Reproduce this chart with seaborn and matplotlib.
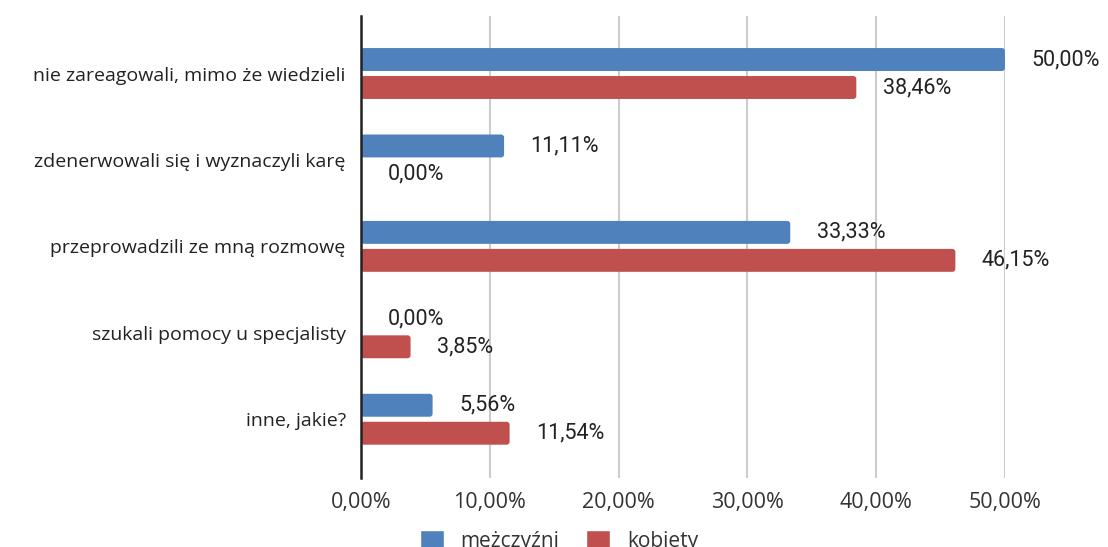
import matplotlib
matplotlib.use("Agg")
import matplotlib.pyplot as plt
from matplotlib.patches import FancyBboxPatch
import seaborn as sns
import pandas as pd

categories = [
    "nie zareagowali, mimo że wiedzieli",
    "zdenerwowali się i wyznaczyli karę",
    "przeprowadzili ze mną rozmowę",
    "szukali pomocy u specjalisty",
    "inne, jakie?",
]
series = ["mężczyźni", "kobiety"]
men = [50.00, 11.11, 33.33, 0.00, 5.56]
women = [38.46, 0.00, 46.15, 3.85, 11.54]
xticks = [0, 10, 20, 30, 40, 50]
colors = ["#4F81BD", "#C0504D"]

df = pd.DataFrame({
    "kategoria": categories * 2,
    "wartość": men + women,
    "grupa": [series[0]] * len(categories) + [series[1]] * len(categories),
})

sns.set_theme(style="white")
plt.rcParams["font.family"] = ["Open Sans", "DejaVu Sans"]

fig = plt.figure(figsize=(11.08, 5.47), dpi=100)
ax = fig.add_axes([0.3258, 0.1261, 0.5812, 0.8446])

sns.barplot(data=df, y="kategoria", x="wartość", hue="grupa", orient="h",
            palette=colors, width=0.647, gap=0.18, ax=ax, saturation=1,
            legend=True)

# rounded bar ends
x_px_per_unit = 0.5812 * 1108 / 50
y_px_per_unit = 0.8446 * 547 / 5.345
aspect = x_px_per_unit / y_px_per_unit
for cont in ax.containers:
    for p in cont.patches:
        w = p.get_width()
        p.set_visible(False)
        if w <= 0:
            continue
        x0, y0, h = p.get_x(), p.get_y(), p.get_height()
        rs = 3.0 / x_px_per_unit
        fb = FancyBboxPatch((x0, y0), w, h,
                            boxstyle=f"round,pad=0,rounding_size={rs}",
                            mutation_aspect=aspect,
                            facecolor=p.get_facecolor(), edgecolor="none",
                            zorder=2)
        ax.add_patch(fb)

for cont, vals in zip(ax.containers, [men, women]):
    labels = [f"{v:.2f}".replace(".", ",") + "%" for v in vals]
    ax.bar_label(cont, labels=labels, padding=19, fontsize=15.5,
                 family="Roboto", color="#222222", clip_on=False)

ax.set_xlim(0, 50)
ax.set_ylim(4.68, -0.665)
ax.set_xticks(xticks)
ax.set_xticklabels([f"{t:.2f}".replace(".", ",") + "%" for t in xticks],
                   fontsize=15.5, color="#333333")
ax.tick_params(axis="x", length=0, pad=10)
ax.tick_params(axis="y", length=0, pad=11, labelsize=14, labelcolor="#222222")
ax.set_xlabel("")
ax.set_ylabel("")
ax.xaxis.grid(True, color="#cccccc", linewidth=1.5)
ax.set_axisbelow(True)
for s in ["top", "right", "bottom"]:
    ax.spines[s].set_visible(False)
ax.spines["left"].set_color("#222222")
ax.spines["left"].set_linewidth(1.8)
ax.spines["left"].set_zorder(5)

handles, lbls = ax.get_legend_handles_labels()
ax.legend(handles, lbls, loc="center", bbox_to_anchor=(559 / 1108, 1 - 541 / 547),
          bbox_transform=fig.transFigure, ncol=2, frameon=False, fontsize=15,
          handlelength=1.15, handleheight=1.15, columnspacing=1.3, handletextpad=0.8,
          labelcolor="#333333", borderpad=0)

fig.savefig("out.png", dpi=100)
